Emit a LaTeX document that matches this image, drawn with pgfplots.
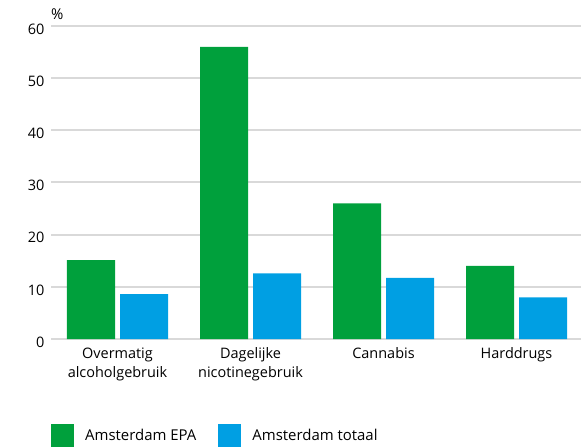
\documentclass[border=0pt]{standalone}
\usepackage{pgfplots}
\pgfplotsset{compat=1.18}
\usepackage{fontspec}
\setmainfont{Open Sans}
\definecolor{epa}{HTML}{00A03C}
\definecolor{tot}{HTML}{009FE3}
\definecolor{gridc}{HTML}{D9D9D9}
\begin{document}
\begin{tikzpicture}
\useasboundingbox (0bp,0bp) rectangle (581bp,448bp);
\begin{axis}[
  at={(51bp,109bp)}, anchor=south west,
  scale only axis, width=532bp, height=313bp,
  ybar, bar width=48bp,
  xmin=-0.5, xmax=3.5, ymin=0, ymax=60,
  ytick={0,10,...,60},
  xtick=data,
  xticklabels={{Overmatig\\alcoholgebruik},{Dagelijke\\nicotinegebruik},{Cannabis},{Harddrugs}},
  xticklabel style={align=center, font=\fontsize{14.5}{19}\selectfont, yshift=-1bp},
  yticklabel style={font=\fontsize{14.5}{15}\selectfont, xshift=-3bp, yshift=-3bp},
  /pgf/number format/assume math mode=true,
  axis x line*=bottom, axis y line*=left,
  axis line style={draw=none},
  ymajorgrids=true,
  major grid style={draw=gridc, line width=2bp},
  tick style={draw=none},
  clip=false,
  legend columns=2,
  legend style={at={(axis description cs:0.0,-0.272)}, anchor=north west, draw=none, inner sep=0pt,
    font=\fontsize{15}{17}\selectfont, column sep=0pt,
    /tikz/every odd column/.append style={column sep=9bp},
    /tikz/every even column/.append style={column sep=20bp}},
  legend image code/.code={\fill[#1] (0bp,-11.5bp) rectangle (23bp,11.5bp);},
  legend cell align=left,
]
\addplot[fill=epa, draw=none, bar shift=-26.5bp] coordinates {(0,15.1) (1,56) (2,26) (3,14)};
\addplot[fill=tot, draw=none, bar shift=26.5bp] coordinates {(0,8.6) (1,12.6) (2,11.7) (3,8)};
\legend{Amsterdam EPA, Amsterdam totaal}
\node[anchor=south west, inner sep=0pt, font=\fontsize{15}{17}\selectfont] at (axis description cs:0,1) [yshift=6bp] {\%};
\end{axis}
\end{tikzpicture}
\end{document}
